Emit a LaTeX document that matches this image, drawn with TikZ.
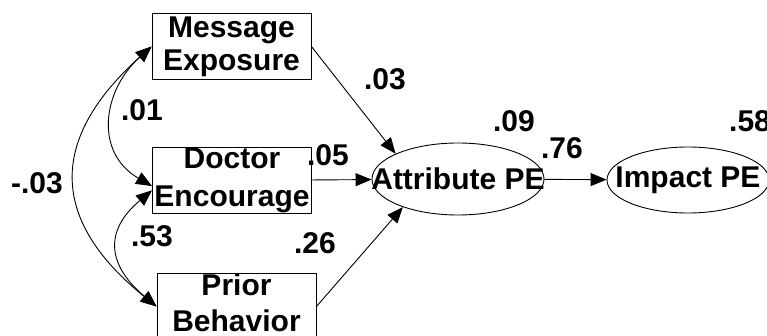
\documentclass[tikz,border=0pt]{standalone}
\usepackage{fontspec}
\setmainfont{Liberation Sans}
\usetikzlibrary{shapes,arrows.meta}

\begin{document}
\begin{tikzpicture}[x=1pt,y=1pt,line width=0.9pt,
  >={Triangle[length=16pt,width=13pt]},
  every node/.style={font=\fontsize{30}{38}\selectfont\bfseries},
  obs/.style={draw,rectangle,inner sep=0pt,minimum width=159pt,minimum height=66pt,align=center},
  lat/.style={draw,ellipse,inner sep=0pt}]
\useasboundingbox (0,0) rectangle (767,-336);
\node[obs,font=\fontsize{30}{33}\selectfont\bfseries] (msg) at (231.5,-46.5) {Message\\Exposure};
\node[obs] (doc) at (232,-180.5) {Doctor\\Encourage};
\node[obs,font=\fontsize{30}{36}\selectfont\bfseries,text depth=7pt] (prior) at (236.5,-306.5) {Prior\\Behavior};
\node[lat,minimum width=172pt,minimum height=72pt] (attr) at (458,-179) {\makebox[0pt]{Attribute PE}};
\node[lat,minimum width=162pt,minimum height=66pt] (imp) at (688,-180) {\makebox[0pt]{Impact PE}};
% coefficients
\node (b03) at (385,-79) {.03};
\node (b05) at (328,-155) {.05};
\node (b26) at (315,-243) {.26};
\node (b76) at (562,-148) {.76};
\node (r09) at (514,-121) {.09};
\node (r58) at (750,-121) {.58};
\node (c01) at (142,-110) {.01};
\node (c53) at (152,-236) {.53};
\node (c03) at (37,-183) {-.03};
\draw (msg.east) edge [->] (attr.158)
(doc) edge [->] (attr)
(prior.east) edge [->] (attr.207)
(attr) edge [->] (imp);
\draw (msg.west) edge [<->,out=222,in=150,looseness=1.22] (doc.184)
(msg.west) edge [<->,out=222,in=141,looseness=1.36] (prior.west)
(doc.187) edge [<->,out=220,in=140,looseness=1.4] (prior.west);
\end{tikzpicture}
\end{document}
